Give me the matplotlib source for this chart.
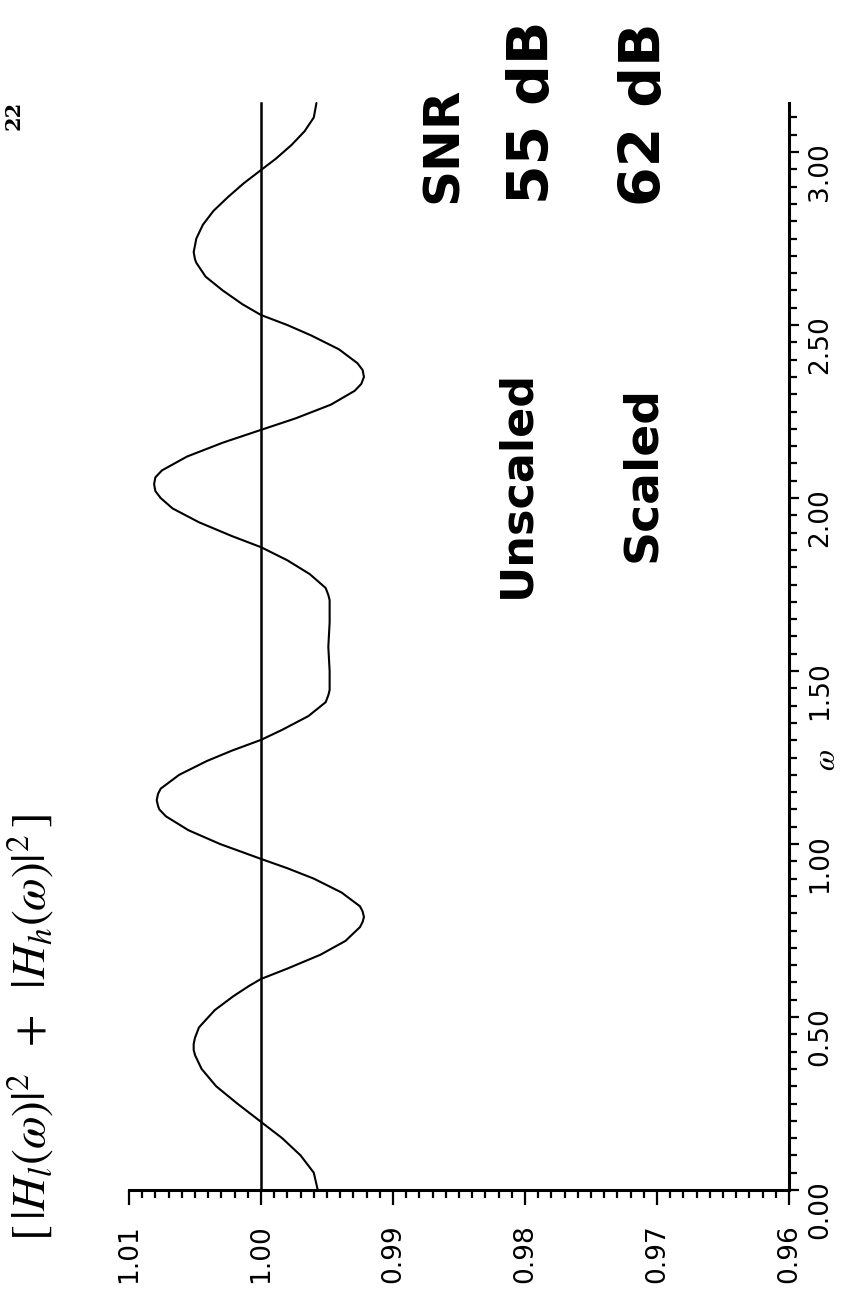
import numpy as np
import matplotlib.pyplot as plt
from matplotlib.ticker import MultipleLocator, FormatStrFormatter

# frequency (rad) and |Hl|^2 + |Hh|^2
omega = [0.00, 0.05, 0.10, 0.15, 0.197, 0.25, 0.30, 0.35, 0.39, 0.405, 0.422, 0.44,
         0.47, 0.52, 0.56, 0.59, 0.61, 0.64, 0.68, 0.72, 0.76, 0.775, 0.789, 0.805,
         0.82, 0.86, 0.90, 0.93, 0.957, 1.00, 1.04, 1.08, 1.10, 1.11, 1.127, 1.145,
         1.16, 1.20, 1.24, 1.27, 1.301, 1.33, 1.37, 1.41, 1.43, 1.445, 1.50,
         1.57, 1.64, 1.705, 1.72, 1.74, 1.78, 1.82, 1.858, 1.89, 1.93, 1.97,
         2.00, 2.02, 2.04, 2.06, 2.08, 2.12, 2.16, 2.197, 2.23, 2.27, 2.31, 2.33, 2.35, 2.37,
         2.39, 2.43, 2.47, 2.50, 2.529, 2.56, 2.60, 2.64, 2.68, 2.69, 2.711, 2.73,
         2.75, 2.79, 2.83, 2.87, 2.91, 2.948, 2.98, 3.02, 3.06, 3.10, 3.1416]
response = [0.9957, 0.9960, 0.9970, 0.9984, 1.0000, 1.0018, 1.0034, 1.0045, 1.0050, 1.0051, 1.0051, 1.0050,
            1.0047, 1.0035, 1.0021, 1.0009, 1.0000, 0.9980, 0.9955, 0.9936, 0.9925, 0.9923, 0.9922, 0.9923,
            0.9925, 0.9939, 0.9960, 0.9980, 1.0000, 1.0031, 1.0055, 1.0072, 1.0077, 1.0078, 1.0079, 1.0078,
            1.0076, 1.0062, 1.0041, 1.0022, 1.0000, 0.9984, 0.9964, 0.9951, 0.9949, 0.9948, 0.9948,
            0.9949, 0.9948, 0.9948, 0.9949, 0.9951, 0.9963, 0.9980, 1.0000, 1.0022, 1.0047, 1.0067,
            1.0076, 1.0080, 1.0081, 1.0080, 1.0075, 1.0056, 1.0029, 1.0000, 0.9974, 0.9947, 0.9929, 0.9924, 0.9922, 0.9923,
            0.9927, 0.9941, 0.9962, 0.9980, 1.0000, 1.0014, 1.0029, 1.0042, 1.0049, 1.0050, 1.0051, 1.0050,
            1.0049, 1.0044, 1.0036, 1.0025, 1.0013, 1.0000, 0.9989, 0.9977, 0.9967, 0.9960, 0.9958]

# unity reference line
ref_omega = [0.0, 3.1416]
ref_value = [1.0, 1.0]

plt.rcParams['mathtext.fontset'] = 'stix'

# page is rotated 90 degrees: value runs across, omega runs up
fig = plt.figure(figsize=(8.47, 13.08), dpi=100)
ax = fig.add_axes([0.1523, 0.0902, 0.7792, 0.8310])

ax.plot(response, omega, color='black', lw=1.5, clip_on=False,
        solid_joinstyle='round', solid_capstyle='round')
ax.plot(ref_value, ref_omega, color='black', lw=1.8, clip_on=False)

ax.set_xlim(1.01, 0.96)
ax.set_ylim(0, np.pi)

for side in ['top', 'left']:
    ax.spines[side].set_visible(False)
for side in ['bottom', 'right']:
    ax.spines[side].set_linewidth(2.2)

ax.yaxis.tick_right()
ax.xaxis.set_major_locator(MultipleLocator(0.01))
ax.xaxis.set_minor_locator(MultipleLocator(0.001))
ax.yaxis.set_major_locator(MultipleLocator(0.5))
ax.yaxis.set_minor_locator(MultipleLocator(0.05))
ax.xaxis.set_major_formatter(FormatStrFormatter('%.2f'))
ax.yaxis.set_major_formatter(FormatStrFormatter('%.2f'))

ax.tick_params(axis='x', which='major', direction='out', length=11, width=1.6,
               labelsize=19, labelrotation=90, pad=14)
ax.tick_params(axis='x', which='minor', direction='out', length=6, width=1.6)
ax.tick_params(axis='y', which='major', direction='out', length=7, width=1.6,
               labelsize=19, labelrotation=90, pad=6, right=True, left=False)
ax.tick_params(axis='y', which='minor', direction='out', length=6, width=1.6,
               right=True, left=False)

# axis titles
fig.text(30 / 847, 1 - 1027 / 1308,
         r'$[\,|H_l(\omega)|^2\;\;+\;\;|H_h(\omega)|^2\,]$',
         rotation=90, ha='center', va='center', fontsize=34)
fig.text(826 / 847, 1 - 760 / 1308, r'$\omega$', rotation=90,
         ha='center', va='center', fontsize=22)

# page number
fig.text(14 / 847, 1 - 115 / 1308, '22', rotation=90, ha='center', va='center',
         fontsize=15, family='DejaVu Serif', weight='bold')

# handwritten notes
notes = [
    ('SNR', 443, 145, 36),
    ('55 dB', 533, 112, 41),
    ('62 dB', 645, 114, 41),
    ('Unscaled', 517, 484, 32),
    ('Scaled', 643, 474, 34),
]
for txt, px, py, size in notes:
    fig.text(px / 847, 1 - py / 1308, txt, rotation=90, ha='center', va='center',
             fontsize=size, weight='bold', family='DejaVu Sans')

fig.savefig('out.png', dpi=100, facecolor='white')
